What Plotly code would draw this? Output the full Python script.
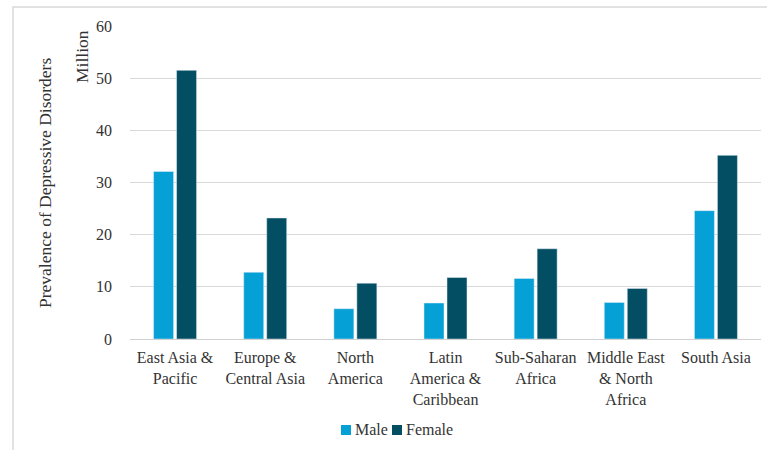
import plotly.graph_objects as go

regions = [
    "East Asia &<br>Pacific",
    "Europe &<br>Central Asia",
    "North<br>America",
    "Latin<br>America &<br>Caribbean",
    "Sub-Saharan<br>Africa",
    "Middle East<br>& North<br>Africa",
    "South Asia",
]
male = [32.1, 12.8, 5.8, 6.9, 11.6, 7.0, 24.6]
female = [51.5, 23.2, 10.7, 11.8, 17.3, 9.7, 35.2]
y_ticks = [0, 10, 20, 30, 40, 50, 60]

series_names = ["Male", "Female"]
series_colors = ["#05A0D6", "#034E63"]

W, H = 767, 450
ML, MR, MT, MB = 130, 6, 26, 111
PW, PH = W - ML - MR, H - MT - MB


def px_x(px):
    return (px - ML) / PW


def px_y(py):
    return (H - MB - py) / PH


FONT = "Liberation Serif"
TXT = "#333333"

fig = go.Figure()
for name, vals, col in zip(series_names, [male, female], series_colors):
    fig.add_trace(go.Bar(name=name, x=regions, y=vals, marker_color=col))

fig.update_layout(
    width=W,
    height=H,
    margin=dict(l=ML, r=MR, t=MT, b=MB),
    paper_bgcolor="white",
    plot_bgcolor="white",
    barmode="group",
    bargap=0.49,
    bargroupgap=0.13,
    font=dict(family=FONT, size=16, color=TXT),
    showlegend=False,
    xaxis=dict(
        showgrid=False,
        showline=False,
        tickfont=dict(family=FONT, size=16, color=TXT),
        tickangle=0,
        ticklabelstandoff=7,
    ),
    yaxis=dict(
        range=[0, 60],
        tickvals=y_ticks,
        showgrid=True,
        gridcolor="#d9d9d9",
        gridwidth=1,
        zeroline=True,
        zerolinecolor="#d0d0d0",
        zerolinewidth=1,
        showline=False,
        ticklabelstandoff=17,
        tickfont=dict(family=FONT, size=16, color=TXT),
    ),
)

fig.add_annotation(
    text="Prevalence of Depressive Disorders",
    xref="paper", yref="paper",
    x=px_x(45), y=px_y(183),
    textangle=-90, showarrow=False,
    xanchor="center", yanchor="middle",
    font=dict(family=FONT, size=17.5, color=TXT),
)
fig.add_annotation(
    text="Million",
    xref="paper", yref="paper",
    x=px_x(82), y=px_y(57),
    textangle=-90, showarrow=False,
    xanchor="center", yanchor="middle",
    font=dict(family=FONT, size=17.5, color=TXT),
)

# Compact legend below the plot: colour square followed by series name
legend_items = [(341, 353), (392, 404)]
for (sq_x, tx_x), name, col in zip(legend_items, series_names, series_colors):
    fig.add_shape(
        type="rect", xref="paper", yref="paper",
        x0=px_x(sq_x), x1=px_x(sq_x + 10),
        y0=px_y(435), y1=px_y(425),
        fillcolor=col, line=dict(width=0),
    )
    fig.add_annotation(
        text=name, xref="paper", yref="paper",
        x=px_x(tx_x), y=px_y(430),
        xanchor="left", yanchor="middle", showarrow=False,
        font=dict(family=FONT, size=16, color=TXT),
    )

# Chart frame (left and top edges visible)
fig.add_shape(
    type="rect",
    xref="paper", yref="paper",
    x0=px_x(13), y0=px_y(7), x1=px_x(W + 20), y1=px_y(H + 20),
    line=dict(color="#d9d9d9", width=1.5),
    layer="below",
)

fig.write_html("out.html")
